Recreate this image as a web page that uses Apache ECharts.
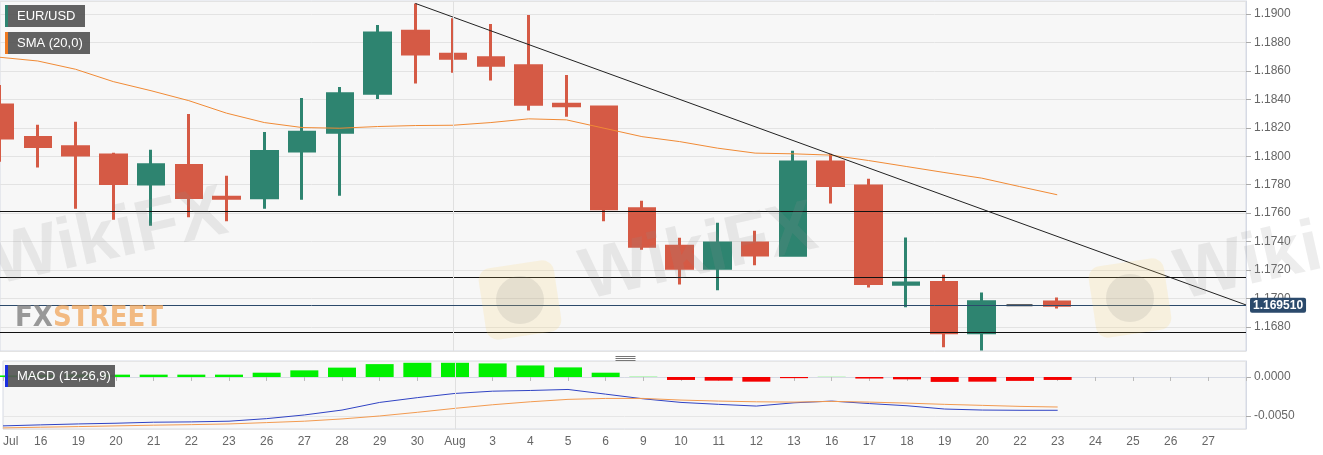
<!DOCTYPE html>
<html lang="en">
<head>
    <meta charset="UTF-8">
    <title>EUR/USD</title>
    <script src="https://cdn.jsdelivr.net/npm/echarts/dist/echarts.min.js"></script>
    <style>
        html, body { margin: 0; padding: 0; background: #fff; }
        #main { width: 1323px; height: 455px; }
    </style>
</head>
<body>
    <div id="main"></div>
    <script>
        // x labels (last one empty so the axis runs to the right edge)
        var days = ['Jul', '16', '19', '20', '21', '22', '23', '26', '27', '28', '29', '30', 'Aug', '3', '4', '5', '6',
            '9', '10', '11', '12', '13', '16', '17', '18', '19', '20', '22', '23', '24', '25', '26', '27', ''];

        var opens = [1.18361, 1.18131, 1.18066, 1.18008, 1.17804, 1.17935, 1.17712, 1.17708, 1.18036, 1.18169, 1.18443,
            1.18879, 1.18717, 1.18693, 1.18637, 1.18365, 1.18347, 1.17631, 1.17366, 1.17212, 1.1739, 1.17303, 1.17959,
            1.1779, 1.171, 1.17111, 1.16758, 1.16951, 1.16975];
        var closes = [1.18129, 1.18068, 1.18008, 1.17808, 1.1794, 1.1771, 1.17705, 1.18033, 1.18169, 1.1844, 1.18867,
            1.18719, 1.18689, 1.1864, 1.18366, 1.18355, 1.17631, 1.17366, 1.17212, 1.1739, 1.17306, 1.17959, 1.17794,
            1.17104, 1.17108, 1.16758, 1.16976, 1.16951, 1.16951];
        var highs = [1.18501, 1.18221, 1.18242, 1.18024, 1.18045, 1.18298, 1.17862, 1.18171, 1.1841, 1.18487, 1.18923,
            1.19075, 1.1897, 1.1893, 1.18993, 1.18572, 1.18347, 1.17687, 1.17427, 1.17532, 1.17476, 1.18038, 1.18017,
            1.17841, 1.17429, 1.17167, 1.17041, 1.16951, 1.17006];
        var lows = [1.17961, 1.17921, 1.17631, 1.17553, 1.17511, 1.1757, 1.17542, 1.17631, 1.17694, 1.17722, 1.18403,
            1.18511, 1.18588, 1.18532, 1.18321, 1.18277, 1.17542, 1.17343, 1.17097, 1.17057, 1.17233, 1.17296, 1.17668,
            1.17076, 1.16938, 1.16657, 1.16634, 1.16951, 1.16929];

        var sma = [1.18696, 1.1867, 1.18612, 1.18525, 1.18461, 1.18391, 1.18303, 1.18237, 1.18202, 1.18197, 1.18209,
            1.18216, 1.18218, 1.18237, 1.18263, 1.18256, 1.18197, 1.18138, 1.18103, 1.18057, 1.18022, 1.18017, 1.18008,
            1.1797, 1.17928, 1.17886, 1.17846, 1.17787, 1.17729];

        var macdLine = [-0.00627, -0.00614, -0.00602, -0.00593, -0.0058, -0.00576, -0.00567, -0.00534, -0.00487, -0.00424,
            -0.00326, -0.00265, -0.00211, -0.00182, -0.00173, -0.0016, -0.0022, -0.0028, -0.00326, -0.00351, -0.00373,
            -0.00331, -0.00309, -0.00341, -0.00369, -0.00411, -0.00424, -0.00427, -0.00427];
        var signalLine = [-0.00653, -0.00644, -0.00636, -0.00627, -0.00618, -0.00611, -0.00602, -0.00585, -0.00567, -0.00538,
            -0.005, -0.00453, -0.00402, -0.00356, -0.00318, -0.00287, -0.00275, -0.00275, -0.00296, -0.00309, -0.00318,
            -0.00322, -0.00313, -0.00322, -0.00335, -0.00351, -0.00364, -0.00377, -0.00385];
        var histogram = [0.0002, 0.00025, 0.0003, 0.0003, 0.0003, 0.0003, 0.0003, 0.00055, 0.00085, 0.0012, 0.00165,
            0.00182, 0.00182, 0.00174, 0.00148, 0.00123, 0.00055, 0.00003, -0.00038, -0.00047, -0.0006, -0.00015, 0.00002,
            -0.0002, -0.0003, -0.00063, -0.0006, -0.0005, -0.00038];

        // trend line from the 30 Jul high, horizontal levels, last price
        var trendLine = [[11, 1.19075], [33, 1.16954]];
        var levels = [1.17612, 1.17151, 1.16765];
        var lastPrice = 1.16951;
        var augIndex = 12;

        var upColor = '#2e8470';
        var downColor = '#d55a45';

        var candles = opens.map(function (o, i) {
            var item = { value: [o, closes[i], lows[i], highs[i]] };
            if (i === 27) {
                item.itemStyle = { color: '#333', color0: '#333', borderColor: '#333', borderColor0: '#333', borderWidth: 2 };
            }
            return item;
        });

        var chart = echarts.init(document.getElementById('main'));

        function tag(x, y, w, barColor, text) {
            return {
                type: 'group', left: x, top: y, z: 120,
                children: [
                    { type: 'rect', z: 120, shape: { x: 0, y: 0, width: w, height: 22 }, style: { fill: 'rgba(85,85,85,0.92)' } },
                    { type: 'rect', z: 121, shape: { x: 0, y: 0, width: 3, height: 22 }, style: { fill: barColor } },
                    { type: 'text', z: 122, x: 12, y: 11, style: { text: text, fill: '#fff', font: '13px "Liberation Sans", Arial', textVerticalAlign: 'middle' } }
                ]
            };
        }

        var option = {
            animation: false,
            backgroundColor: '#fff',
            textStyle: { fontFamily: '"Liberation Sans", Arial, sans-serif' },
            grid: [
                { left: 0, right: 77, top: 1, height: 350, show: true, backgroundColor: '#f7f7f7', borderColor: '#d6dae4', borderWidth: 1 },
                { left: 0, right: 77, top: 361, height: 68, show: true, backgroundColor: '#f7f7f7', borderColor: '#d6dae4', borderWidth: 1 }
            ],
            xAxis: [
                {
                    type: 'category', gridIndex: 0, data: days, boundaryGap: false,
                    axisLabel: { show: false }, axisTick: { show: false }, axisLine: { show: false }, splitLine: { show: false }
                },
                {
                    type: 'category', gridIndex: 1, data: days, boundaryGap: false,
                    axisLabel: { interval: 0, color: '#666', fontSize: 12, margin: 7, alignMinLabel: 'left' },
                    axisTick: { show: true, interval: 0, length: 4, lineStyle: { color: '#bbb' } },
                    axisLine: { lineStyle: { color: '#d6dae4' } },
                    splitLine: { show: false }
                }
            ],
            yAxis: [
                {
                    type: 'value', gridIndex: 0, position: 'right', scale: true,
                    min: 1.1663, max: 1.19092, splitNumber: 11,
                    axisLabel: { color: '#666', fontSize: 12, margin: 8, showMinLabel: false, showMaxLabel: false,
                        formatter: function (v) { return v.toFixed(4); } },
                    axisTick: { show: true, length: 5, lineStyle: { color: '#aaa' } },
                    axisLine: { show: true, lineStyle: { color: '#d6dae4' } },
                    splitLine: { lineStyle: { color: '#e3e3e3' } }
                },
                {
                    type: 'value', gridIndex: 1, position: 'right', scale: true,
                    min: -0.00667, max: 0.00205, splitNumber: 2,
                    axisLabel: { color: '#666', fontSize: 12, margin: 8, showMinLabel: false, showMaxLabel: false,
                        formatter: function (v) { return v.toFixed(4); } },
                    axisTick: { show: true, length: 5, lineStyle: { color: '#aaa' } },
                    axisLine: { show: true, lineStyle: { color: '#d6dae4' } },
                    splitLine: { lineStyle: { color: '#e6e6e6' } }
                }
            ],
            series: [
                {
                    name: 'EUR/USD', type: 'candlestick', xAxisIndex: 0, yAxisIndex: 0, data: candles, barWidth: 26,
                    itemStyle: { color: upColor, color0: downColor, borderColor: upColor, borderColor0: downColor, borderWidth: 3 },
                    markLine: {
                        silent: true, symbol: ['none', 'none'], precision: 6,
                        label: { show: false },
                        lineStyle: { color: '#111', width: 1.2, type: 'solid' },
                        data: levels.map(function (v) { return { yAxis: v }; }).concat([
                            { xAxis: augIndex, lineStyle: { color: '#e0e0e0', width: 1 } },
                            {
                                yAxis: lastPrice, lineStyle: { color: '#2c4a6b', width: 1 },
                                label: {
                                    show: true, position: 'end', distance: 4, formatter: lastPrice.toFixed(6),
                                    color: '#fff', backgroundColor: '#2b4a6c', fontWeight: 'bold', fontSize: 12,
                                    padding: [2, 3, 1, 3], borderRadius: 2
                                }
                            }
                        ])
                    }
                },
                {
                    name: 'SMA (20,0)', type: 'line', xAxisIndex: 0, yAxisIndex: 0, data: sma, symbol: 'none',
                    lineStyle: { color: '#f08a35', width: 1 }
                },
                {
                    name: 'trend', type: 'line', xAxisIndex: 0, yAxisIndex: 0, data: trendLine, symbol: 'none',
                    lineStyle: { color: '#222', width: 1 }
                },
                {
                    name: 'hist', type: 'bar', xAxisIndex: 1, yAxisIndex: 1, data: histogram, barWidth: 28,
                    itemStyle: { color: function (p) { return p.value >= 0 ? '#00f000' : '#f40000'; } },
                    markLine: {
                        silent: true, symbol: ['none', 'none'], label: { show: false },
                        lineStyle: { color: '#e0e0e0', width: 1, type: 'solid' },
                        data: [{ xAxis: augIndex }]
                    }
                },
                {
                    name: 'MACD', type: 'line', xAxisIndex: 1, yAxisIndex: 1, data: macdLine, symbol: 'none',
                    lineStyle: { color: '#3043c4', width: 1 }
                },
                {
                    name: 'Signal', type: 'line', xAxisIndex: 1, yAxisIndex: 1, data: signalLine, symbol: 'none',
                    lineStyle: { color: '#f29a50', width: 1 }
                }
            ],
            graphic: [
                // watermarks
                { type: 'text', x: 0, y: 300, rotation: 0.22, z: 100, silent: true,
                    style: { text: 'WikiFX', fill: 'rgba(140,140,140,0.16)', font: 'bold 72px "Liberation Sans", Arial', textVerticalAlign: 'bottom' } },
                { type: 'text', x: 590, y: 315, rotation: 0.22, z: 100, silent: true,
                    style: { text: 'WikiFX', fill: 'rgba(140,140,140,0.16)', font: 'bold 72px "Liberation Sans", Arial', textVerticalAlign: 'bottom' } },
                { type: 'text', x: 1185, y: 315, rotation: 0.22, z: 100, silent: true,
                    style: { text: 'Wiki', fill: 'rgba(140,140,140,0.16)', font: 'bold 72px "Liberation Sans", Arial', textVerticalAlign: 'bottom' } },
                { type: 'rect', x: 520, y: 300, rotation: 0.15, z: 99, silent: true,
                    shape: { x: -38, y: -36, width: 76, height: 72, r: 12 }, style: { fill: 'rgba(250,210,110,0.18)' } },
                { type: 'circle', x: 520, y: 300, z: 99, silent: true,
                    shape: { r: 24 }, style: { fill: 'rgba(120,120,120,0.14)' } },
                { type: 'rect', x: 1130, y: 298, rotation: 0.15, z: 99, silent: true,
                    shape: { x: -38, y: -36, width: 76, height: 72, r: 12 }, style: { fill: 'rgba(250,210,110,0.18)' } },
                { type: 'circle', x: 1130, y: 298, z: 99, silent: true,
                    shape: { r: 24 }, style: { fill: 'rgba(120,120,120,0.14)' } },
                { type: 'text', x: 15, y: 318, z: 100, silent: true,
                    style: {
                        text: '{a|FX}{b|STREET}', textVerticalAlign: 'middle',
                        rich: {
                            a: { fill: 'rgba(120,120,120,0.75)', font: 'bold 29px "Liberation Sans Narrow", "DejaVu Sans Condensed", Arial' },
                            b: { fill: 'rgba(240,160,80,0.7)', font: 'bold 29px "Liberation Sans Narrow", "DejaVu Sans Condensed", Arial' }
                        }
                    } },
                // panel handle
                { type: 'group', left: 613, top: 354, z: 110, children: [
                    { type: 'line', z: 110, shape: { x1: 0, y1: 0, x2: 20, y2: 0 }, style: { stroke: '#777', lineWidth: 1 } },
                    { type: 'line', z: 110, shape: { x1: 0, y1: 2, x2: 20, y2: 2 }, style: { stroke: '#777', lineWidth: 1 } },
                    { type: 'line', z: 110, shape: { x1: 0, y1: 4, x2: 20, y2: 4 }, style: { stroke: '#777', lineWidth: 1 } }
                ] },
                tag(5, 5, 80, upColor, 'EUR/USD'),
                tag(5, 32, 85, '#f07a20', 'SMA (20,0)'),
                tag(5, 365, 110, '#1a2ee0', 'MACD (12,26,9)')
            ]
        };

        chart.setOption(option);
    </script>
</body>
</html>
